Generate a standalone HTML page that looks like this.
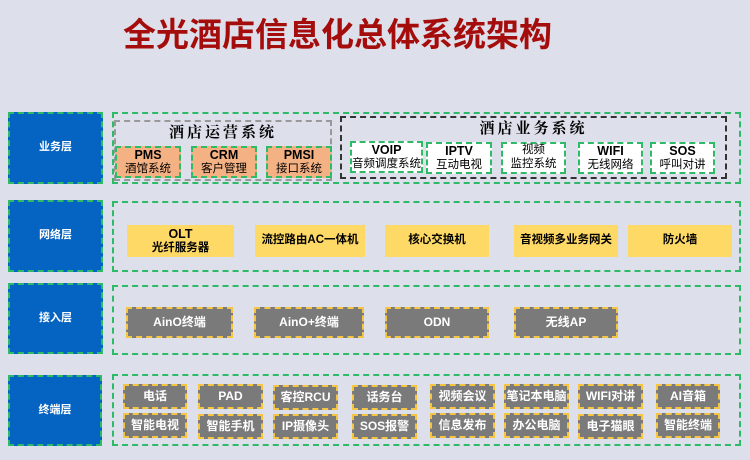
<!DOCTYPE html>
<html><head><meta charset="utf-8"><style>
body{margin:0;width:750px;height:460px;background:#dde0ea;position:relative;overflow:hidden;font-family:"Liberation Sans","Noto Sans CJK SC",sans-serif}
.a{position:absolute;box-sizing:border-box;display:flex;align-items:center;justify-content:center;text-align:center;line-height:1.2}
.lab{background:#0563c1;border:2px dashed #2dbb67;color:#fff;font-size:11px;font-weight:bold}
.cont{border:2px dashed #2dbb67}
.org{background:#f4b183;border:2px dashed #2dbb67;font-size:11.5px;color:#000;flex-direction:column}
.wht{background:#fff;border:2px dashed #2dbb67;font-size:11.5px;color:#000;flex-direction:column}
.yel{background:#ffd966;font-size:11.5px;font-weight:bold;flex-direction:column;color:#000}
.gry{background:#7a7a7a;border:2px dashed #f5c542;color:#fff;font-size:12px;font-weight:bold}
b{font-size:12.5px}
</style></head><body>
<div class="a" style="left:110px;top:12px;width:455px;height:46px;color:#a50d0d;font-size:33px;font-weight:bold;justify-content:center">全光酒店信息化总体系统架构</div>

<div class="a lab" style="left:8px;top:112px;width:95px;height:72px">业务层</div>
<div class="a cont" style="left:112px;top:112px;width:629px;height:72px"></div>
<div class="a" style="left:114px;top:120px;width:218px;height:61px;border:2px dashed #999"></div>
<div class="a" style="left:114px;top:122px;width:218px;height:20px;font-size:15px;font-weight:bold;letter-spacing:3px;font-family:'Noto Serif CJK SC',serif">酒店运营系统</div>
<div class="a org" style="left:115px;top:146px;width:66px;height:32px"><b>PMS</b>酒馆系统</div>
<div class="a org" style="left:191px;top:146px;width:66px;height:32px"><b>CRM</b>客户管理</div>
<div class="a org" style="left:266px;top:146px;width:66px;height:32px"><b>PMSI</b>接口系统</div>
<div class="a" style="left:340px;top:116px;width:387px;height:63px;border:2px dashed #333"></div>
<div class="a" style="left:340px;top:118px;width:387px;height:20px;font-size:15px;font-weight:bold;letter-spacing:3px;font-family:'Noto Serif CJK SC',serif">酒店业务系统</div>
<div class="a wht" style="left:350px;top:141px;width:73px;height:32px"><b>VOIP</b>音频调度系统</div>
<div class="a wht" style="left:426px;top:142px;width:66px;height:32px"><b>IPTV</b>互动电视</div>
<div class="a wht" style="left:501px;top:142px;width:65px;height:32px">视频<br>监控系统</div>
<div class="a wht" style="left:578px;top:142px;width:65px;height:32px"><b>WIFI</b>无线网络</div>
<div class="a wht" style="left:650px;top:142px;width:65px;height:32px"><b>SOS</b>呼叫对讲</div>

<div class="a lab" style="left:8px;top:200px;width:95px;height:72px">网络层</div>
<div class="a cont" style="left:112px;top:201px;width:629px;height:71px"></div>
<div class="a yel" style="left:127px;top:225px;width:107px;height:32px"><b>OLT</b>光纤服务器</div>
<div class="a yel" style="left:255px;top:225px;width:110px;height:32px">流控路由AC一体机</div>
<div class="a yel" style="left:385px;top:225px;width:104px;height:32px">核心交换机</div>
<div class="a yel" style="left:514px;top:225px;width:104px;height:32px">音视频多业务网关</div>
<div class="a yel" style="left:628px;top:225px;width:104px;height:32px">防火墙</div>

<div class="a lab" style="left:8px;top:283px;width:95px;height:71px">接入层</div>
<div class="a cont" style="left:112px;top:285px;width:629px;height:70px"></div>
<div class="a gry" style="left:126px;top:307px;width:107px;height:31px">AinO终端</div>
<div class="a gry" style="left:254px;top:307px;width:110px;height:31px">AinO+终端</div>
<div class="a gry" style="left:385px;top:307px;width:104px;height:31px">ODN</div>
<div class="a gry" style="left:514px;top:307px;width:104px;height:31px">无线AP</div>

<div class="a lab" style="left:8px;top:375px;width:94px;height:71px">终端层</div>
<div class="a cont" style="left:112px;top:374px;width:629px;height:72px"></div>
<div class="a gry" style="left:123px;top:384px;width:64px;height:25px">电话</div>
<div class="a gry" style="left:198px;top:384px;width:65px;height:25px">PAD</div>
<div class="a gry" style="left:273px;top:385px;width:65px;height:25px">客控RCU</div>
<div class="a gry" style="left:352px;top:385px;width:65px;height:25px">话务台</div>
<div class="a gry" style="left:430px;top:384px;width:65px;height:25px">视频会议</div>
<div class="a gry" style="left:504px;top:384px;width:65px;height:25px">笔记本电脑</div>
<div class="a gry" style="left:578px;top:384px;width:65px;height:25px">WIFI对讲</div>
<div class="a gry" style="left:656px;top:384px;width:64px;height:25px">AI音箱</div>
<div class="a gry" style="left:123px;top:413px;width:64px;height:25px">智能电视</div>
<div class="a gry" style="left:198px;top:414px;width:65px;height:25px">智能手机</div>
<div class="a gry" style="left:273px;top:414px;width:65px;height:25px">IP摄像头</div>
<div class="a gry" style="left:352px;top:414px;width:65px;height:25px">SOS报警</div>
<div class="a gry" style="left:430px;top:413px;width:65px;height:25px">信息发布</div>
<div class="a gry" style="left:504px;top:413px;width:65px;height:25px">办公电脑</div>
<div class="a gry" style="left:578px;top:414px;width:65px;height:25px">电子猫眼</div>
<div class="a gry" style="left:656px;top:413px;width:64px;height:25px">智能终端</div>
</body></html>
